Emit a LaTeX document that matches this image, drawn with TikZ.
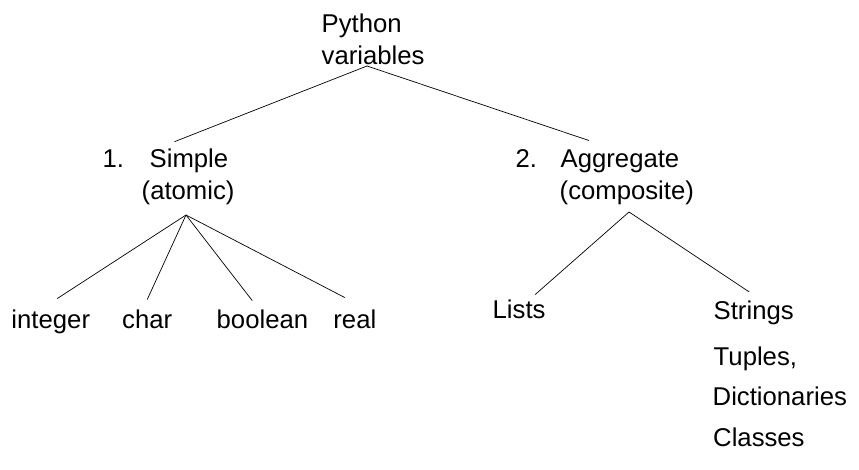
\documentclass[tikz,border=0pt]{standalone}
\usepackage{fontspec}
\setmainfont{Liberation Sans}
\usepackage{tikz}

\begin{document}
\begin{tikzpicture}[x=1pt,y=1pt,
  lbl/.style={inner sep=0pt,anchor=base west,
    font=\fontsize{25.7}{30}\selectfont},
  branch/.style={line width=0.7pt}]
  \useasboundingbox (0,0) rectangle (859,-469);
  % root
  \node [lbl] (python) at (321.5,-32) {Python};
  \node [lbl] (variables) at (321.5,-64) {variables};
  % first level
  \node [lbl] (num1) at (102.5,-167) {1.};
  \node [lbl] (simple) at (149.5,-167) {Simple};
  \node [lbl] (atomic) at (141.5,-199) {(atomic)};
  \node [lbl] (num2) at (515.5,-167) {2.};
  \node [lbl] (aggregate) at (560.5,-167) {Aggregate};
  \node [lbl] (composite) at (559.5,-199) {(composite)};
  % simple leaves
  \node [lbl] (integer) at (11.3,-328) {integer};
  \node [lbl] (char) at (122,-328) {char};
  \node [lbl] (boolean) at (216.5,-328) {boolean};
  \node [lbl] (real) at (333.2,-328) {real};
  % aggregate leaves
  \node [lbl] (lists) at (492.5,-318) {Lists};
  \node [lbl] (strings) at (713.5,-319) {Strings};
  \node [lbl] (tuples) at (713.5,-365) {Tuples,};
  \node [lbl] (dicts) at (712.5,-405) {Dictionaries};
  \node [lbl] (classes) at (713,-446) {Classes};
  % branch points
  \coordinate (vroot) at (367,-66);
  \coordinate (aroot) at (186,-215);
  \coordinate (croot) at (629,-212);
  % branches
  \draw [branch] (vroot) -- ([xshift=25pt,yshift=6.5pt]simple.north west);
  \draw [branch] (vroot) -- ([xshift=28.5pt,yshift=8.6pt]aggregate.north west);
  \draw [branch] (aroot) -- ([xshift=6.4pt,yshift=10.6pt]integer.north);
  \draw [branch] (aroot) -- ([yshift=9.6pt]char.north);
  \draw [branch] (aroot) -- ([xshift=-10.2pt,yshift=8.6pt]boolean.north);
  \draw [branch] (aroot) -- ([xshift=-10pt,yshift=11.6pt]real.north);
  \draw [branch] (croot) -- ([xshift=16pt,yshift=4.6pt]lists.north);
  \draw [branch] (croot) -- ([xshift=-4.5pt,yshift=8.3pt]strings.north);
\end{tikzpicture}
\end{document}
